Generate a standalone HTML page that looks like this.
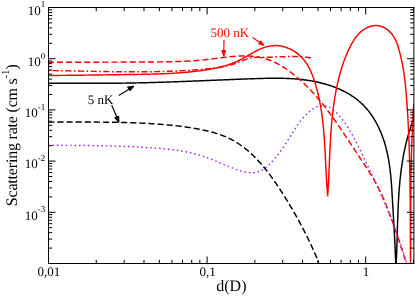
<!DOCTYPE html>
<html><head><meta charset="utf-8"><title>Scattering rate</title>
<style>
html,body{margin:0;padding:0;background:#fff;}
body{width:415px;height:296px;overflow:hidden;font-family:"Liberation Serif",serif;}
svg{display:block;will-change:transform;}
text{font-family:"Liberation Serif",serif;fill:#000;text-rendering:geometricPrecision;}
.t13{font-size:13px;}
.t16{font-size:16px;}
.sup{font-size:9px;}
.sup16{font-size:11px;}
path{fill:none;stroke-linejoin:round;}
.ax{stroke:#000;stroke-width:1;}
.r{stroke:#f00;stroke-width:1.45;}
.rd{stroke:#f00;stroke-width:1.45;stroke-dasharray:6.1 3;stroke-dashoffset:-0.5;}
.rdd{stroke:#f00;stroke-width:1.45;stroke-dasharray:6 2.5 1.7 2.5;stroke-dashoffset:-7.2;}
.k{stroke:#000;stroke-width:1.45;}
.kd{stroke:#000;stroke-width:1.45;stroke-dasharray:6.2 2.9;stroke-dashoffset:-1;}
.v{stroke:#a020f0;stroke-width:1.45;stroke-dasharray:1.5 2.95;stroke-dashoffset:-1.2;}
.ar path{stroke-width:1.15;}
.r1 path{stroke:#f00;} .r1 .hd{fill:#f00;}
.k1 path{stroke:#000;} .k1 .hd{fill:#000;}
</style></head>
<body>
<svg width="415" height="296" viewBox="0 0 415 296">
<rect width="415" height="296" fill="#fff"/>
<clipPath id="cp"><rect x="48.5" y="7.5" width="365.4" height="256.0"/></clipPath>
<g clip-path="url(#cp)">
<path class="kd" d="M20.00,122.00 L20.92,122.01 L21.84,122.02 L22.76,122.03 L23.68,122.04 L24.60,122.04 L25.52,122.05 L26.44,122.06 L27.35,122.06 L28.27,122.07 L29.19,122.07 L30.11,122.08 L31.03,122.08 L31.95,122.09 L32.87,122.09 L33.79,122.10 L34.71,122.10 L35.63,122.10 L36.55,122.10 L37.47,122.10 L38.39,122.11 L39.31,122.11 L40.23,122.11 L41.15,122.11 L42.07,122.11 L42.99,122.11 L43.91,122.11 L44.83,122.11 L45.75,122.11 L46.67,122.11 L47.60,122.11 L48.52,122.11 L49.44,122.11 L50.36,122.10 L51.28,122.10 L52.20,122.10 L53.12,122.10 L54.04,122.10 L54.96,122.09 L55.88,122.09 L56.80,122.09 L57.72,122.09 L58.64,122.09 L59.56,122.08 L60.48,122.08 L61.40,122.08 L62.33,122.08 L63.25,122.07 L64.17,122.07 L65.09,122.07 L66.01,122.07 L66.93,122.06 L67.85,122.06 L68.77,122.06 L69.69,122.06 L70.61,122.05 L71.53,122.05 L72.46,122.05 L73.38,122.05 L74.30,122.05 L75.22,122.05 L76.14,122.04 L77.06,122.04 L77.98,122.04 L78.90,122.04 L79.82,122.04 L80.74,122.04 L81.66,122.04 L82.59,122.04 L83.51,122.04 L84.43,122.04 L85.35,122.04 L86.27,122.05 L87.19,122.05 L88.11,122.05 L89.03,122.05 L89.95,122.06 L90.87,122.06 L91.79,122.06 L92.71,122.07 L93.64,122.07 L94.56,122.07 L95.48,122.08 L96.40,122.09 L97.32,122.09 L98.24,122.10 L99.16,122.11 L100.08,122.11 L101.00,122.12 L101.92,122.13 L102.84,122.14 L103.76,122.15 L104.68,122.16 L105.60,122.17 L106.52,122.18 L107.44,122.19 L108.36,122.20 L109.28,122.22 L110.21,122.23 L111.13,122.25 L112.05,122.26 L112.97,122.28 L113.89,122.29 L114.81,122.31 L115.73,122.33 L116.65,122.35 L117.57,122.36 L118.49,122.38 L119.41,122.40 L120.33,122.43 L121.25,122.45 L122.17,122.47 L123.08,122.49 L124.00,122.52 L124.92,122.54 L125.84,122.57 L126.76,122.60 L127.68,122.62 L128.60,122.65 L129.52,122.68 L130.44,122.71 L131.36,122.74 L132.28,122.78 L133.20,122.81 L134.12,122.84 L135.04,122.88 L135.95,122.91 L136.87,122.95 L137.79,122.99 L138.71,123.03 L139.63,123.07 L140.55,123.11 L141.47,123.15 L142.39,123.19 L143.30,123.24 L144.22,123.28 L145.14,123.33 L146.06,123.38 L146.98,123.42 L147.89,123.47 L148.81,123.52 L149.73,123.58 L150.65,123.63 L151.57,123.68 L152.48,123.74 L153.40,123.80 L154.32,123.86 L155.24,123.92 L156.15,123.98 L157.07,124.04 L157.99,124.11 L158.90,124.17 L159.82,124.24 L160.74,124.31 L161.65,124.38 L162.57,124.46 L163.49,124.53 L164.40,124.61 L165.32,124.69 L166.23,124.77 L167.15,124.85 L168.07,124.93 L168.98,125.02 L169.90,125.11 L170.81,125.20 L171.73,125.29 L172.64,125.39 L173.56,125.48 L174.47,125.58 L175.39,125.68 L176.30,125.79 L177.22,125.89 L178.13,126.00 L179.04,126.11 L179.96,126.22 L180.87,126.34 L181.78,126.46 L182.70,126.58 L183.61,126.70 L184.52,126.83 L185.44,126.96 L186.35,127.09 L187.26,127.22 L188.17,127.36 L189.09,127.50 L190.00,127.64 L190.91,127.78 L191.82,127.93 L192.73,128.08 L193.64,128.24 L194.55,128.39 L195.46,128.55 L196.38,128.72 L197.29,128.88 L198.20,129.05 L199.11,129.22 L200.01,129.40 L200.92,129.58 L201.83,129.76 L202.74,129.95 L203.64,130.14 L204.55,130.34 L205.45,130.54 L206.35,130.74 L207.25,130.95 L208.15,131.17 L209.05,131.39 L209.94,131.61 L210.84,131.84 L211.73,132.08 L212.62,132.32 L213.50,132.57 L214.38,132.82 L215.26,133.09 L216.14,133.35 L217.02,133.62 L217.89,133.90 L218.76,134.19 L219.62,134.49 L220.48,134.79 L221.34,135.09 L222.19,135.41 L223.04,135.73 L223.89,136.07 L224.73,136.40 L225.56,136.75 L226.40,137.11 L227.22,137.47 L228.05,137.85 L228.86,138.23 L229.68,138.62 L230.48,139.02 L231.29,139.43 L232.08,139.85 L232.88,140.27 L233.66,140.71 L234.44,141.15 L235.22,141.61 L235.99,142.07 L236.76,142.54 L237.52,143.02 L238.28,143.51 L239.03,144.00 L239.78,144.51 L240.52,145.02 L241.26,145.54 L241.99,146.06 L242.72,146.60 L243.44,147.14 L244.16,147.69 L244.87,148.24 L245.58,148.81 L246.29,149.38 L246.99,149.96 L247.68,150.54 L248.38,151.13 L249.06,151.73 L249.75,152.33 L250.43,152.94 L251.10,153.56 L251.77,154.18 L252.44,154.81 L253.10,155.44 L253.76,156.08 L254.41,156.73 L255.06,157.38 L255.71,158.04 L256.35,158.70 L256.99,159.37 L257.62,160.04 L258.25,160.72 L258.88,161.40 L259.50,162.09 L260.12,162.78 L260.74,163.48 L261.35,164.18 L261.96,164.88 L262.57,165.59 L263.17,166.30 L263.77,167.02 L264.36,167.74 L264.95,168.47 L265.54,169.20 L266.12,169.93 L266.71,170.67 L267.28,171.40 L267.86,172.15 L268.43,172.89 L269.00,173.64 L269.56,174.39 L270.13,175.15 L270.69,175.90 L271.24,176.66 L271.80,177.42 L272.35,178.19 L272.90,178.95 L273.44,179.72 L273.98,180.49 L274.52,181.26 L275.06,182.04 L275.59,182.81 L276.13,183.59 L276.65,184.37 L277.18,185.15 L277.70,185.93 L278.23,186.71 L278.75,187.50 L279.26,188.28 L279.78,189.06 L280.29,189.85 L280.80,190.64 L281.31,191.42 L281.81,192.21 L282.31,193.00 L282.81,193.78 L283.31,194.57 L283.81,195.36 L284.31,196.14 L284.80,196.93 L285.29,197.71 L285.78,198.50 L286.27,199.29 L286.75,200.07 L287.23,200.86 L287.71,201.64 L288.19,202.43 L288.67,203.21 L289.15,204.00 L289.62,204.78 L290.09,205.57 L290.56,206.35 L291.03,207.14 L291.49,207.93 L291.96,208.71 L292.42,209.50 L292.88,210.29 L293.34,211.07 L293.80,211.86 L294.25,212.65 L294.70,213.44 L295.15,214.23 L295.60,215.02 L296.05,215.80 L296.50,216.60 L296.94,217.39 L297.38,218.18 L297.82,218.97 L298.26,219.76 L298.70,220.56 L299.13,221.35 L299.57,222.15 L300.00,222.94 L300.43,223.74 L300.85,224.54 L301.28,225.34 L301.71,226.14 L302.13,226.94 L302.55,227.74 L302.97,228.54 L303.39,229.35 L303.80,230.15 L304.22,230.96 L304.63,231.77 L305.04,232.58 L305.45,233.39 L305.86,234.20 L306.26,235.01 L306.67,235.82 L307.07,236.64 L307.47,237.46 L307.87,238.27 L308.27,239.09 L308.67,239.92 L309.06,240.74 L309.46,241.56 L309.85,242.39 L310.24,243.22 L310.63,244.05 L311.01,244.88 L311.40,245.71 L311.78,246.55 L312.17,247.38 L312.55,248.22 L312.93,249.06 L313.30,249.91 L313.68,250.75 L314.06,251.60 L314.43,252.45 L314.80,253.30 L315.17,254.15 L315.54,255.00 L315.91,255.86 L316.28,256.72 L316.64,257.58 L317.00,258.45 L317.37,259.31 L317.73,260.18 L318.09,261.05 L318.44,261.92 L318.80,262.80"/>
<path class="k" d="M20.00,83.30 L21.03,83.30 L22.06,83.29 L23.09,83.29 L24.12,83.28 L25.15,83.28 L26.17,83.28 L27.20,83.27 L28.23,83.27 L29.26,83.27 L30.29,83.27 L31.32,83.26 L32.35,83.26 L33.38,83.26 L34.41,83.26 L35.45,83.26 L36.48,83.26 L37.51,83.26 L38.54,83.26 L39.57,83.26 L40.60,83.26 L41.63,83.26 L42.66,83.26 L43.70,83.26 L44.73,83.26 L45.76,83.26 L46.79,83.27 L47.82,83.27 L48.85,83.27 L49.89,83.27 L50.92,83.27 L51.95,83.28 L52.98,83.28 L54.02,83.28 L55.05,83.28 L56.08,83.29 L57.11,83.29 L58.15,83.29 L59.18,83.29 L60.21,83.30 L61.25,83.30 L62.28,83.30 L63.31,83.30 L64.35,83.31 L65.38,83.31 L66.41,83.31 L67.45,83.31 L68.48,83.32 L69.51,83.32 L70.55,83.32 L71.58,83.32 L72.61,83.33 L73.65,83.33 L74.68,83.33 L75.71,83.33 L76.75,83.33 L77.78,83.34 L78.81,83.34 L79.85,83.34 L80.88,83.34 L81.91,83.34 L82.95,83.34 L83.98,83.34 L85.02,83.34 L86.05,83.34 L87.08,83.34 L88.12,83.34 L89.15,83.34 L90.18,83.34 L91.22,83.34 L92.25,83.34 L93.28,83.34 L94.32,83.34 L95.35,83.34 L96.38,83.33 L97.42,83.33 L98.45,83.33 L99.48,83.32 L100.52,83.32 L101.55,83.32 L102.58,83.31 L103.62,83.31 L104.65,83.30 L105.68,83.30 L106.72,83.29 L107.75,83.28 L108.78,83.28 L109.81,83.27 L110.85,83.26 L111.88,83.25 L112.91,83.25 L113.94,83.24 L114.98,83.23 L116.01,83.22 L117.04,83.21 L118.07,83.20 L119.10,83.18 L120.14,83.17 L121.17,83.16 L122.20,83.15 L123.23,83.13 L124.26,83.12 L125.29,83.10 L126.33,83.09 L127.36,83.07 L128.39,83.06 L129.42,83.04 L130.45,83.02 L131.48,83.00 L132.51,82.98 L133.54,82.96 L134.57,82.94 L135.60,82.92 L136.63,82.90 L137.66,82.88 L138.69,82.86 L139.72,82.83 L140.75,82.81 L141.78,82.79 L142.81,82.76 L143.84,82.74 L144.87,82.71 L145.90,82.69 L146.93,82.66 L147.96,82.63 L148.98,82.61 L150.01,82.58 L151.04,82.55 L152.07,82.52 L153.10,82.49 L154.13,82.46 L155.16,82.43 L156.19,82.40 L157.22,82.37 L158.25,82.34 L159.27,82.31 L160.30,82.28 L161.33,82.24 L162.36,82.21 L163.39,82.18 L164.42,82.14 L165.45,82.11 L166.48,82.08 L167.50,82.04 L168.53,82.01 L169.56,81.97 L170.59,81.94 L171.62,81.90 L172.65,81.86 L173.68,81.83 L174.71,81.79 L175.74,81.75 L176.76,81.72 L177.79,81.68 L178.82,81.64 L179.85,81.60 L180.88,81.56 L181.91,81.53 L182.94,81.49 L183.97,81.45 L185.00,81.41 L186.03,81.37 L187.06,81.33 L188.09,81.29 L189.12,81.25 L190.15,81.21 L191.18,81.17 L192.21,81.13 L193.24,81.09 L194.27,81.05 L195.30,81.01 L196.33,80.96 L197.36,80.92 L198.39,80.88 L199.42,80.84 L200.45,80.80 L201.49,80.76 L202.52,80.72 L203.55,80.67 L204.58,80.63 L205.61,80.59 L206.64,80.55 L207.68,80.51 L208.71,80.46 L209.74,80.42 L210.77,80.38 L211.81,80.34 L212.84,80.29 L213.87,80.25 L214.91,80.21 L215.94,80.17 L216.97,80.12 L218.01,80.08 L219.04,80.04 L220.07,80.00 L221.11,79.96 L222.14,79.91 L223.18,79.87 L224.21,79.83 L225.25,79.79 L226.28,79.74 L227.32,79.70 L228.36,79.66 L229.39,79.62 L230.43,79.58 L231.47,79.54 L232.50,79.49 L233.54,79.45 L234.58,79.41 L235.61,79.37 L236.65,79.33 L237.69,79.29 L238.73,79.25 L239.77,79.21 L240.81,79.17 L241.85,79.13 L242.89,79.09 L243.92,79.05 L244.97,79.01 L246.01,78.97 L247.05,78.93 L248.09,78.89 L249.13,78.85 L250.17,78.82 L251.21,78.78 L252.25,78.74 L253.30,78.70 L254.34,78.67 L255.38,78.63 L256.42,78.60 L257.47,78.56 L258.51,78.53 L259.55,78.50 L260.60,78.47 L261.64,78.44 L262.68,78.41 L263.73,78.38 L264.77,78.36 L265.81,78.33 L266.86,78.31 L267.90,78.30 L268.94,78.28 L269.98,78.26 L271.02,78.25 L272.07,78.24 L273.11,78.24 L274.15,78.23 L275.19,78.23 L276.23,78.23 L277.27,78.24 L278.31,78.25 L279.35,78.26 L280.39,78.27 L281.42,78.29 L282.46,78.31 L283.50,78.34 L284.53,78.37 L285.57,78.40 L286.60,78.44 L287.64,78.48 L288.67,78.53 L289.70,78.58 L290.73,78.63 L291.76,78.69 L292.79,78.76 L293.82,78.82 L294.85,78.90 L295.87,78.98 L296.90,79.06 L297.92,79.15 L298.95,79.25 L299.97,79.35 L300.99,79.45 L302.01,79.57 L303.03,79.69 L304.05,79.81 L305.06,79.94 L306.08,80.08 L307.09,80.22 L308.10,80.37 L309.11,80.52 L310.12,80.69 L311.13,80.86 L312.14,81.03 L313.14,81.22 L314.15,81.41 L315.15,81.60 L316.15,81.81 L317.15,82.02 L318.15,82.24 L319.14,82.47 L320.13,82.70 L321.13,82.95 L322.12,83.20 L323.10,83.46 L324.09,83.73 L325.08,84.00 L326.06,84.29 L327.04,84.58 L328.02,84.88 L329.00,85.19 L329.97,85.51 L330.94,85.84 L331.91,86.18 L332.88,86.53 L333.85,86.88 L334.81,87.25 L335.77,87.63 L336.73,88.01 L337.68,88.41 L338.63,88.81 L339.57,89.22 L340.51,89.65 L341.45,90.08 L342.38,90.52 L343.30,90.98 L344.22,91.44 L345.13,91.92 L346.04,92.40 L346.94,92.89 L347.84,93.40 L348.72,93.92 L349.61,94.44 L350.48,94.98 L351.34,95.53 L352.20,96.08 L353.05,96.65 L353.89,97.23 L354.72,97.82 L355.54,98.43 L356.36,99.04 L357.16,99.67 L357.96,100.30 L358.74,100.95 L359.51,101.61 L360.28,102.28 L361.03,102.96 L361.77,103.65 L362.50,104.36 L363.22,105.07 L363.93,105.80 L364.63,106.54 L365.32,107.28 L366.00,108.04 L366.66,108.81 L367.32,109.59 L367.97,110.37 L368.60,111.17 L369.23,111.97 L369.85,112.79 L370.45,113.61 L371.05,114.44 L371.63,115.28 L372.21,116.13 L372.78,116.99 L373.33,117.85 L373.88,118.72 L374.41,119.60 L374.94,120.48 L375.46,121.37 L375.96,122.27 L376.46,123.18 L376.95,124.09 L377.42,125.01 L377.89,125.93 L378.35,126.86 L378.80,127.80 L379.24,128.74 L379.67,129.68 L380.09,130.63 L380.51,131.59 L380.91,132.54 L381.30,133.51 L381.69,134.47 L382.06,135.45 L382.43,136.42 L382.79,137.40 L383.14,138.38 L383.48,139.36 L383.81,140.35 L384.13,141.34 L384.44,142.33 L384.75,143.33 L385.04,144.32 L385.33,145.32 L385.61,146.32 L385.88,147.32 L386.14,148.33 L386.40,149.33 L386.64,150.34 L386.88,151.35 L387.11,152.36 L387.34,153.37 L387.56,154.38 L387.77,155.39 L387.97,156.41 L388.17,157.43 L388.36,158.44 L388.54,159.46 L388.72,160.48 L388.89,161.50 L389.05,162.53 L389.21,163.55 L389.37,164.57 L389.52,165.60 L389.66,166.62 L389.80,167.65 L389.93,168.68 L390.06,169.71 L390.19,170.74 L390.31,171.77 L390.42,172.80 L390.53,173.83 L390.64,174.86 L390.74,175.89 L390.84,176.92 L390.94,177.96 L391.03,178.99 L391.12,180.02 L391.21,181.06 L391.29,182.09 L391.37,183.12 L391.45,184.16 L391.53,185.19 L391.60,186.23 L391.67,187.26 L391.74,188.30 L391.81,189.33 L391.88,190.37 L391.94,191.40 L392.01,192.43 L392.07,193.47 L392.13,194.50 L392.19,195.53 L392.25,196.57 L392.31,197.60 L392.37,198.63 L392.43,199.66 L392.49,200.69 L392.55,201.72 L392.61,202.75 L392.67,203.78 L392.73,204.81 L392.79,205.84 L392.85,206.87 L392.91,207.90 L392.97,208.92 L393.03,209.95 L393.09,210.98 L393.15,212.00 L393.21,213.03 L393.27,214.06 L393.33,215.08 L393.39,216.11 L393.45,217.13 L393.51,218.16 L393.57,219.18 L393.63,220.20 L393.69,221.23 L393.74,222.25 L393.80,223.28 L393.86,224.30 L393.92,225.33 L393.98,226.35 L394.03,227.37 L394.09,228.40 L394.15,229.42 L394.20,230.45 L394.26,231.47 L394.31,232.49 L394.37,233.52 L394.42,234.54 L394.48,235.57 L394.53,236.59 L394.59,237.62 L394.64,238.65 L394.69,239.67 L394.74,240.70 L394.80,241.72 L394.85,242.75 L394.90,243.78 L394.95,244.81 L395.00,245.83 L395.05,246.86 L395.10,247.89 L395.14,248.92 L395.19,249.95 L395.24,250.98 L395.29,252.01 L395.33,253.05 L395.38,254.08 L395.42,255.11 L395.46,256.14 L395.51,257.18 L395.55,258.21 L395.59,259.25 L395.63,260.29 L395.67,261.32 L395.71,262.36 L395.75,263.40"/>
<path class="k" d="M414.10,118.00 L413.82,118.69 L413.55,119.39 L413.28,120.08 L413.01,120.78 L412.75,121.48 L412.49,122.17 L412.23,122.87 L411.98,123.57 L411.73,124.27 L411.48,124.97 L411.24,125.67 L410.99,126.37 L410.76,127.07 L410.52,127.78 L410.29,128.48 L410.06,129.18 L409.83,129.89 L409.61,130.59 L409.39,131.30 L409.17,132.01 L408.95,132.71 L408.74,133.42 L408.53,134.13 L408.32,134.84 L408.12,135.55 L407.92,136.26 L407.72,136.97 L407.52,137.68 L407.33,138.39 L407.14,139.11 L406.95,139.82 L406.77,140.53 L406.58,141.25 L406.40,141.96 L406.23,142.68 L406.05,143.39 L405.88,144.11 L405.71,144.83 L405.54,145.55 L405.38,146.26 L405.21,146.98 L405.05,147.70 L404.89,148.42 L404.74,149.14 L404.59,149.86 L404.43,150.58 L404.29,151.30 L404.14,152.03 L404.00,152.75 L403.85,153.47 L403.71,154.20 L403.58,154.92 L403.44,155.64 L403.31,156.37 L403.18,157.09 L403.05,157.82 L402.92,158.55 L402.80,159.27 L402.68,160.00 L402.55,160.73 L402.44,161.45 L402.32,162.18 L402.21,162.91 L402.09,163.64 L401.98,164.37 L401.87,165.10 L401.77,165.83 L401.66,166.56 L401.56,167.29 L401.46,168.02 L401.36,168.75 L401.26,169.49 L401.16,170.22 L401.07,170.95 L400.98,171.68 L400.89,172.42 L400.80,173.15 L400.71,173.88 L400.62,174.62 L400.54,175.35 L400.46,176.09 L400.38,176.82 L400.30,177.56 L400.22,178.29 L400.14,179.03 L400.07,179.77 L400.00,180.50 L399.92,181.24 L399.85,181.98 L399.78,182.71 L399.72,183.45 L399.65,184.19 L399.59,184.93 L399.52,185.67 L399.46,186.40 L399.40,187.14 L399.34,187.88 L399.28,188.62 L399.22,189.36 L399.17,190.10 L399.11,190.84 L399.06,191.58 L399.01,192.32 L398.96,193.06 L398.91,193.80 L398.86,194.54 L398.81,195.28 L398.76,196.02 L398.71,196.76 L398.67,197.50 L398.63,198.25 L398.58,198.99 L398.54,199.73 L398.50,200.47 L398.46,201.21 L398.42,201.95 L398.38,202.70 L398.34,203.44 L398.31,204.18 L398.27,204.92 L398.23,205.67 L398.20,206.41 L398.17,207.15 L398.13,207.89 L398.10,208.64 L398.07,209.38 L398.04,210.12 L398.01,210.87 L397.98,211.61 L397.95,212.35 L397.92,213.09 L397.89,213.84 L397.86,214.58 L397.83,215.32 L397.81,216.07 L397.78,216.81 L397.76,217.55 L397.73,218.30 L397.71,219.04 L397.68,219.78 L397.66,220.53 L397.63,221.27 L397.61,222.01 L397.59,222.75 L397.56,223.50 L397.54,224.24 L397.52,224.98 L397.49,225.73 L397.47,226.47 L397.45,227.21 L397.43,227.95 L397.41,228.70 L397.38,229.44 L397.36,230.18 L397.34,230.92 L397.32,231.66 L397.30,232.41 L397.28,233.15 L397.26,233.89 L397.23,234.63 L397.21,235.37 L397.19,236.11 L397.17,236.86 L397.15,237.60 L397.13,238.34 L397.10,239.08 L397.08,239.82 L397.06,240.56 L397.04,241.30 L397.01,242.04 L396.99,242.78 L396.97,243.52 L396.94,244.26 L396.92,245.00 L396.89,245.74 L396.87,246.48 L396.84,247.21 L396.82,247.95 L396.79,248.69 L396.77,249.43 L396.74,250.17 L396.71,250.90 L396.68,251.64 L396.66,252.38 L396.63,253.12 L396.60,253.85 L396.57,254.59 L396.54,255.32 L396.50,256.06 L396.47,256.80 L396.44,257.53 L396.41,258.27 L396.37,259.00 L396.34,259.73 L396.30,260.47 L396.26,261.20 L396.23,261.93 L396.19,262.67 L396.15,263.40"/>
<path class="rd" d="M20.00,62.20 L21.28,62.20 L22.56,62.21 L23.84,62.21 L25.12,62.21 L26.40,62.21 L27.68,62.22 L28.96,62.22 L30.24,62.22 L31.52,62.22 L32.80,62.22 L34.08,62.23 L35.36,62.23 L36.64,62.23 L37.92,62.23 L39.20,62.23 L40.48,62.23 L41.76,62.23 L43.04,62.23 L44.32,62.23 L45.60,62.23 L46.88,62.23 L48.16,62.23 L49.44,62.23 L50.72,62.23 L52.00,62.23 L53.28,62.23 L54.56,62.23 L55.84,62.23 L57.12,62.23 L58.40,62.23 L59.68,62.23 L60.96,62.23 L62.24,62.23 L63.52,62.22 L64.80,62.22 L66.08,62.22 L67.36,62.22 L68.63,62.22 L69.91,62.22 L71.19,62.21 L72.47,62.21 L73.75,62.21 L75.03,62.21 L76.31,62.21 L77.59,62.20 L78.87,62.20 L80.15,62.20 L81.43,62.20 L82.71,62.19 L83.99,62.19 L85.27,62.19 L86.55,62.19 L87.83,62.18 L89.11,62.18 L90.38,62.18 L91.66,62.17 L92.94,62.17 L94.22,62.17 L95.50,62.17 L96.78,62.16 L98.06,62.16 L99.34,62.16 L100.62,62.15 L101.90,62.15 L103.18,62.15 L104.46,62.14 L105.74,62.14 L107.02,62.14 L108.30,62.13 L109.58,62.13 L110.86,62.13 L112.14,62.12 L113.42,62.12 L114.70,62.12 L115.98,62.11 L117.26,62.11 L118.54,62.10 L119.82,62.10 L121.10,62.10 L122.38,62.09 L123.66,62.09 L124.94,62.09 L126.22,62.08 L127.50,62.08 L128.78,62.08 L130.07,62.07 L131.35,62.07 L132.63,62.07 L133.91,62.06 L135.19,62.06 L136.47,62.05 L137.75,62.05 L139.03,62.05 L140.31,62.04 L141.59,62.03 L142.87,62.03 L144.16,62.02 L145.44,62.01 L146.72,62.01 L148.00,62.00 L149.28,61.99 L150.56,61.98 L151.84,61.97 L153.12,61.96 L154.40,61.94 L155.68,61.93 L156.96,61.92 L158.24,61.90 L159.52,61.88 L160.80,61.86 L162.08,61.85 L163.36,61.82 L164.64,61.80 L165.92,61.78 L167.20,61.76 L168.48,61.73 L169.76,61.70 L171.04,61.67 L172.31,61.64 L173.59,61.61 L174.87,61.58 L176.15,61.54 L177.43,61.50 L178.70,61.46 L179.98,61.42 L181.26,61.38 L182.53,61.34 L183.81,61.29 L185.09,61.24 L186.36,61.18 L187.64,61.12 L188.91,61.06 L190.19,60.99 L191.47,60.92 L192.74,60.85 L194.02,60.76 L195.29,60.68 L196.56,60.58 L197.84,60.48 L199.11,60.37 L200.39,60.26 L201.66,60.13 L202.93,60.00 L204.21,59.87 L205.48,59.72 L206.75,59.58 L208.03,59.42 L209.30,59.27 L210.58,59.11 L211.85,58.95 L213.13,58.79 L214.41,58.62 L215.68,58.46 L216.96,58.29 L218.24,58.13 L219.52,57.96 L220.80,57.80 L222.08,57.64 L223.36,57.48 L224.65,57.33 L225.93,57.18 L227.22,57.04 L228.51,56.90 L229.80,56.77 L231.08,56.64 L232.37,56.52 L233.66,56.42 L234.94,56.32 L236.23,56.23 L237.52,56.15 L238.80,56.08 L240.08,56.03 L241.36,55.99 L242.64,55.96 L243.92,55.94 L245.19,55.95 L246.46,55.96 L247.73,56.00 L248.99,56.05 L250.26,56.12 L251.51,56.20 L252.77,56.31 L254.02,56.44 L255.26,56.59 L256.50,56.76 L257.74,56.95 L258.97,57.16 L260.19,57.40 L261.41,57.67 L262.63,57.96 L263.83,58.27 L265.04,58.61 L266.23,58.98 L267.42,59.37 L268.60,59.79 L269.78,60.23 L270.95,60.69 L272.11,61.18 L273.26,61.68 L274.41,62.21 L275.55,62.76 L276.69,63.33 L277.82,63.92 L278.94,64.53 L280.05,65.16 L281.16,65.80 L282.26,66.46 L283.35,67.14 L284.43,67.83 L285.51,68.54 L286.58,69.26 L287.64,69.99 L288.70,70.74 L289.74,71.50 L290.78,72.28 L291.82,73.06 L292.84,73.86 L293.86,74.66 L294.86,75.47 L295.86,76.30 L296.85,77.13 L297.84,77.96 L298.81,78.81 L299.78,79.66 L300.74,80.52 L301.69,81.38 L302.64,82.26 L303.57,83.13 L304.50,84.02 L305.42,84.91 L306.34,85.81 L307.25,86.71 L308.15,87.62 L309.04,88.54 L309.93,89.46 L310.81,90.39 L311.69,91.32 L312.55,92.26 L313.42,93.20 L314.27,94.15 L315.12,95.10 L315.97,96.06 L316.81,97.03 L317.64,98.00 L318.47,98.97 L319.29,99.95 L320.11,100.93 L320.92,101.92 L321.72,102.91 L322.53,103.90 L323.32,104.90 L324.12,105.90 L324.91,106.91 L325.69,107.92 L326.47,108.93 L327.24,109.95 L328.02,110.97 L328.78,112.00 L329.55,113.02 L330.31,114.05 L331.06,115.09 L331.82,116.12 L332.57,117.16 L333.31,118.20 L334.06,119.24 L334.80,120.29 L335.54,121.34 L336.27,122.39 L337.00,123.44 L337.73,124.49 L338.46,125.55 L339.19,126.61 L339.91,127.66 L340.63,128.72 L341.35,129.79 L342.07,130.85 L342.79,131.91 L343.50,132.98 L344.21,134.04 L344.93,135.11 L345.64,136.18 L346.35,137.24 L347.06,138.31 L347.76,139.38 L348.47,140.45 L349.18,141.52 L349.89,142.59 L350.59,143.66 L351.30,144.72 L352.00,145.79 L352.71,146.86 L353.42,147.93 L354.12,148.99 L354.83,150.06 L355.54,151.12 L356.25,152.19 L356.95,153.25 L357.66,154.31 L358.37,155.37 L359.08,156.43 L359.79,157.49 L360.50,158.55 L361.20,159.62 L361.91,160.68 L362.61,161.74 L363.31,162.80 L364.01,163.86 L364.71,164.93 L365.41,165.99 L366.10,167.06 L366.79,168.13 L367.47,169.20 L368.16,170.27 L368.83,171.34 L369.51,172.42 L370.18,173.50 L370.84,174.58 L371.50,175.66 L372.15,176.75 L372.80,177.84 L373.45,178.93 L374.08,180.03 L374.72,181.13 L375.34,182.24 L375.96,183.34 L376.57,184.46 L377.17,185.58 L377.77,186.70 L378.35,187.82 L378.93,188.96 L379.51,190.09 L380.07,191.24 L380.62,192.38 L381.17,193.53 L381.71,194.69 L382.24,195.85 L382.77,197.02 L383.28,198.19 L383.80,199.36 L384.30,200.54 L384.80,201.72 L385.29,202.90 L385.78,204.09 L386.26,205.28 L386.74,206.47 L387.21,207.66 L387.68,208.86 L388.15,210.06 L388.61,211.26 L389.06,212.46 L389.52,213.66 L389.97,214.87 L390.42,216.08 L390.86,217.28 L391.30,218.49 L391.74,219.70 L392.18,220.91 L392.62,222.12 L393.05,223.33 L393.48,224.55 L393.91,225.76 L394.34,226.97 L394.76,228.19 L395.18,229.40 L395.60,230.62 L396.02,231.84 L396.43,233.05 L396.85,234.27 L397.26,235.49 L397.67,236.71 L398.08,237.92 L398.48,239.14 L398.89,240.36 L399.29,241.58 L399.69,242.80 L400.09,244.02 L400.49,245.24 L400.89,246.46 L401.28,247.68 L401.68,248.90 L402.07,250.12 L402.47,251.33 L402.86,252.55 L403.25,253.77 L403.64,254.99 L404.02,256.21 L404.41,257.43 L404.80,258.64 L405.18,259.86 L405.57,261.08 L405.95,262.29 L406.33,263.51 L406.72,264.72 L407.10,265.94 L407.48,267.15 L407.86,268.37 L408.24,269.58 L408.62,270.79 L409.00,272.00"/>
<path class="v" d="M20.00,145.20 L21.33,145.21 L22.65,145.22 L23.98,145.22 L25.31,145.23 L26.63,145.24 L27.96,145.24 L29.29,145.25 L30.61,145.25 L31.94,145.26 L33.27,145.26 L34.59,145.27 L35.92,145.27 L37.25,145.28 L38.57,145.28 L39.90,145.28 L41.23,145.29 L42.56,145.29 L43.88,145.29 L45.21,145.30 L46.54,145.30 L47.86,145.30 L49.19,145.31 L50.52,145.31 L51.85,145.31 L53.17,145.32 L54.50,145.32 L55.83,145.32 L57.16,145.33 L58.48,145.33 L59.81,145.34 L61.14,145.34 L62.46,145.35 L63.79,145.35 L65.12,145.36 L66.45,145.36 L67.77,145.37 L69.10,145.38 L70.43,145.39 L71.75,145.39 L73.08,145.40 L74.41,145.41 L75.74,145.42 L77.06,145.43 L78.39,145.44 L79.72,145.45 L81.05,145.47 L82.37,145.48 L83.70,145.49 L85.03,145.51 L86.35,145.52 L87.68,145.54 L89.01,145.55 L90.33,145.57 L91.66,145.59 L92.99,145.61 L94.32,145.63 L95.64,145.65 L96.97,145.67 L98.30,145.70 L99.62,145.72 L100.95,145.75 L102.28,145.77 L103.60,145.80 L104.93,145.83 L106.26,145.86 L107.58,145.89 L108.91,145.93 L110.24,145.96 L111.56,145.99 L112.89,146.03 L114.21,146.07 L115.54,146.11 L116.87,146.15 L118.19,146.19 L119.52,146.23 L120.84,146.28 L122.17,146.33 L123.50,146.37 L124.82,146.42 L126.15,146.47 L127.47,146.53 L128.80,146.58 L130.13,146.64 L131.45,146.70 L132.78,146.75 L134.10,146.82 L135.43,146.88 L136.75,146.94 L138.08,147.01 L139.40,147.08 L140.73,147.15 L142.05,147.22 L143.38,147.30 L144.70,147.37 L146.03,147.45 L147.35,147.53 L148.68,147.61 L150.00,147.70 L151.32,147.79 L152.65,147.88 L153.97,147.97 L155.29,148.07 L156.62,148.17 L157.94,148.28 L159.26,148.39 L160.59,148.50 L161.91,148.62 L163.23,148.74 L164.55,148.87 L165.87,149.00 L167.19,149.14 L168.51,149.28 L169.83,149.43 L171.15,149.59 L172.47,149.75 L173.78,149.92 L175.10,150.09 L176.42,150.27 L177.73,150.46 L179.05,150.66 L180.36,150.86 L181.67,151.07 L182.99,151.29 L184.30,151.52 L185.61,151.76 L186.91,152.01 L188.22,152.27 L189.52,152.54 L190.81,152.82 L192.11,153.11 L193.40,153.42 L194.68,153.74 L195.96,154.08 L197.24,154.43 L198.51,154.80 L199.77,155.18 L201.03,155.58 L202.29,155.99 L203.54,156.41 L204.79,156.84 L206.04,157.29 L207.28,157.74 L208.52,158.21 L209.76,158.68 L211.00,159.16 L212.23,159.65 L213.47,160.15 L214.70,160.65 L215.94,161.16 L217.17,161.67 L218.41,162.19 L219.64,162.71 L220.88,163.23 L222.12,163.75 L223.36,164.28 L224.61,164.80 L225.86,165.33 L227.11,165.85 L228.36,166.38 L229.62,166.90 L230.89,167.41 L232.16,167.92 L233.43,168.43 L234.70,168.92 L235.98,169.39 L237.26,169.85 L238.54,170.29 L239.82,170.71 L241.09,171.09 L242.37,171.45 L243.64,171.77 L244.91,172.05 L246.17,172.29 L247.43,172.49 L248.68,172.64 L249.92,172.74 L251.16,172.79 L252.38,172.78 L253.60,172.71 L254.80,172.57 L256.00,172.37 L257.18,172.10 L258.34,171.75 L259.50,171.33 L260.64,170.83 L261.76,170.25 L262.87,169.61 L263.96,168.90 L265.03,168.13 L266.09,167.31 L267.14,166.44 L268.16,165.53 L269.17,164.58 L270.17,163.60 L271.14,162.59 L272.10,161.57 L273.04,160.53 L273.97,159.48 L274.87,158.43 L275.76,157.37 L276.63,156.32 L277.48,155.26 L278.32,154.20 L279.14,153.14 L279.95,152.07 L280.75,151.00 L281.53,149.93 L282.30,148.85 L283.05,147.76 L283.80,146.67 L284.54,145.57 L285.26,144.46 L285.98,143.35 L286.69,142.24 L287.40,141.12 L288.10,139.99 L288.80,138.87 L289.50,137.74 L290.19,136.61 L290.89,135.48 L291.59,134.35 L292.29,133.22 L292.99,132.10 L293.70,130.98 L294.42,129.86 L295.14,128.74 L295.87,127.63 L296.62,126.53 L297.37,125.43 L298.14,124.35 L298.92,123.27 L299.71,122.19 L300.53,121.13 L301.35,120.08 L302.20,119.04 L303.07,118.01 L303.96,117.00 L304.87,116.00 L305.80,115.01 L306.76,114.04 L307.74,113.09 L308.75,112.16 L309.79,111.26 L310.84,110.40 L311.92,109.58 L313.02,108.83 L314.14,108.14 L315.28,107.52 L316.44,106.98 L317.62,106.53 L318.81,106.19 L320.01,105.94 L321.22,105.79 L322.44,105.73 L323.66,105.78 L324.87,105.92 L326.07,106.15 L327.25,106.48 L328.42,106.89 L329.57,107.40 L330.69,108.00 L331.78,108.68 L332.84,109.44 L333.88,110.26 L334.90,111.14 L335.89,112.07 L336.86,113.04 L337.80,114.04 L338.73,115.07 L339.63,116.12 L340.51,117.17 L341.38,118.24 L342.22,119.31 L343.05,120.39 L343.85,121.48 L344.64,122.57 L345.42,123.68 L346.18,124.79 L346.92,125.90 L347.65,127.02 L348.37,128.15 L349.07,129.28 L349.76,130.42 L350.44,131.56 L351.10,132.71 L351.76,133.86 L352.41,135.02 L353.05,136.18 L353.68,137.34 L354.30,138.51 L354.92,139.68 L355.52,140.85 L356.13,142.03 L356.73,143.21 L357.32,144.39 L357.91,145.57 L358.50,146.76 L359.08,147.94 L359.66,149.13 L360.25,150.32 L360.83,151.50 L361.41,152.69 L361.99,153.88 L362.57,155.07 L363.15,156.26 L363.72,157.45 L364.30,158.65 L364.88,159.84 L365.45,161.03 L366.03,162.22 L366.60,163.42 L367.17,164.61 L367.75,165.81 L368.32,167.00 L368.89,168.20 L369.46,169.40 L370.02,170.60 L370.59,171.80 L371.15,173.00 L371.72,174.20 L372.28,175.40 L372.84,176.60 L373.40,177.80 L373.96,179.00 L374.52,180.21 L375.07,181.41 L375.63,182.62 L376.18,183.83 L376.73,185.03 L377.28,186.24 L377.83,187.45 L378.38,188.66 L378.92,189.87 L379.46,191.08 L380.00,192.29 L380.54,193.51 L381.08,194.72 L381.62,195.93 L382.15,197.15 L382.68,198.37 L383.21,199.58 L383.74,200.80 L384.26,202.02 L384.78,203.24 L385.30,204.46 L385.82,205.68 L386.34,206.91 L386.85,208.13 L387.36,209.35 L387.87,210.58 L388.38,211.81 L388.88,213.04 L389.38,214.26 L389.88,215.49 L390.38,216.72 L390.87,217.96 L391.37,219.19 L391.85,220.42 L392.34,221.66 L392.82,222.89 L393.30,224.13 L393.78,225.37 L394.26,226.61 L394.73,227.85 L395.20,229.09 L395.66,230.33 L396.12,231.57 L396.58,232.82 L397.04,234.06 L397.49,235.31 L397.94,236.56 L398.39,237.81 L398.83,239.06 L399.27,240.31 L399.71,241.56 L400.15,242.82 L400.58,244.07 L401.00,245.33 L401.43,246.59 L401.85,247.84 L402.26,249.10 L402.67,250.37 L403.08,251.63 L403.49,252.89 L403.89,254.16 L404.29,255.42 L404.68,256.69 L405.07,257.96 L405.46,259.23 L405.84,260.50 L406.22,261.77 L406.59,263.05 L406.96,264.32 L407.33,265.60 L407.69,266.88 L408.05,268.15 L408.40,269.43 L408.75,270.72 L409.10,272.00"/>
<path class="rdd" d="M20.00,70.40 L20.98,70.40 L21.96,70.39 L22.93,70.39 L23.91,70.39 L24.89,70.38 L25.87,70.38 L26.85,70.38 L27.82,70.38 L28.80,70.38 L29.78,70.39 L30.76,70.39 L31.74,70.39 L32.71,70.40 L33.69,70.40 L34.67,70.41 L35.65,70.41 L36.63,70.42 L37.61,70.42 L38.58,70.43 L39.56,70.44 L40.54,70.45 L41.52,70.46 L42.50,70.47 L43.48,70.48 L44.45,70.49 L45.43,70.50 L46.41,70.51 L47.39,70.52 L48.37,70.54 L49.35,70.55 L50.33,70.56 L51.30,70.58 L52.28,70.59 L53.26,70.60 L54.24,70.62 L55.22,70.63 L56.20,70.65 L57.18,70.67 L58.15,70.68 L59.13,70.70 L60.11,70.72 L61.09,70.73 L62.07,70.75 L63.05,70.77 L64.03,70.79 L65.01,70.80 L65.98,70.82 L66.96,70.84 L67.94,70.86 L68.92,70.88 L69.90,70.90 L70.88,70.92 L71.86,70.94 L72.84,70.95 L73.82,70.97 L74.79,70.99 L75.77,71.01 L76.75,71.03 L77.73,71.05 L78.71,71.07 L79.69,71.09 L80.67,71.11 L81.65,71.13 L82.63,71.15 L83.60,71.17 L84.58,71.19 L85.56,71.21 L86.54,71.23 L87.52,71.25 L88.50,71.27 L89.48,71.29 L90.46,71.31 L91.44,71.33 L92.41,71.35 L93.39,71.37 L94.37,71.38 L95.35,71.40 L96.33,71.42 L97.31,71.44 L98.29,71.46 L99.27,71.47 L100.25,71.49 L101.23,71.51 L102.20,71.52 L103.18,71.54 L104.16,71.56 L105.14,71.57 L106.12,71.59 L107.10,71.60 L108.08,71.62 L109.06,71.63 L110.04,71.65 L111.01,71.66 L111.99,71.67 L112.97,71.69 L113.95,71.70 L114.93,71.71 L115.91,71.72 L116.89,71.73 L117.87,71.74 L118.84,71.75 L119.82,71.76 L120.80,71.77 L121.78,71.78 L122.76,71.79 L123.74,71.80 L124.72,71.80 L125.70,71.81 L126.67,71.81 L127.65,71.82 L128.63,71.82 L129.61,71.83 L130.59,71.83 L131.57,71.83 L132.55,71.83 L133.52,71.83 L134.50,71.83 L135.48,71.83 L136.46,71.83 L137.44,71.83 L138.42,71.83 L139.39,71.82 L140.37,71.82 L141.35,71.81 L142.33,71.81 L143.31,71.80 L144.29,71.79 L145.26,71.78 L146.24,71.78 L147.22,71.76 L148.20,71.75 L149.18,71.74 L150.16,71.73 L151.13,71.71 L152.11,71.70 L153.09,71.68 L154.07,71.67 L155.05,71.65 L156.02,71.63 L157.00,71.61 L157.98,71.59 L158.96,71.57 L159.94,71.54 L160.91,71.52 L161.89,71.49 L162.87,71.47 L163.85,71.44 L164.82,71.41 L165.80,71.38 L166.78,71.35 L167.76,71.32 L168.73,71.29 L169.71,71.25 L170.69,71.22 L171.67,71.18 L172.64,71.14 L173.62,71.10 L174.60,71.06 L175.58,71.02 L176.55,70.98 L177.53,70.93 L178.51,70.89 L179.48,70.84 L180.46,70.79 L181.44,70.74 L182.42,70.69 L183.39,70.64 L184.37,70.58 L185.35,70.53 L186.32,70.47 L187.30,70.41 L188.28,70.35 L189.25,70.29 L190.23,70.23 L191.21,70.17 L192.18,70.10 L193.16,70.03 L194.14,69.97 L195.11,69.90 L196.09,69.82 L197.07,69.75 L198.04,69.68 L199.02,69.60 L199.99,69.52 L200.97,69.44 L201.95,69.36 L202.92,69.28 L203.90,69.19 L204.87,69.10 L205.85,69.01 L206.82,68.92 L207.80,68.82 L208.77,68.72 L209.74,68.61 L210.72,68.50 L211.69,68.39 L212.66,68.27 L213.63,68.15 L214.60,68.02 L215.56,67.89 L216.53,67.75 L217.50,67.60 L218.46,67.45 L219.43,67.29 L220.39,67.13 L221.35,66.96 L222.31,66.78 L223.27,66.59 L224.22,66.40 L225.18,66.20 L226.13,65.99 L227.08,65.77 L228.03,65.54 L228.98,65.31 L229.93,65.06 L230.87,64.81 L231.81,64.54 L232.75,64.27 L233.69,63.98 L234.63,63.69 L235.56,63.39 L236.49,63.07 L237.42,62.74 L238.35,62.40 L239.27,62.05 L240.19,61.69 L241.11,61.32 L242.03,60.94 L242.94,60.55 L243.86,60.17 L244.78,59.80 L245.70,59.44 L246.62,59.09 L247.55,58.77 L248.48,58.48 L249.42,58.21 L250.36,57.99 L251.32,57.80 L252.27,57.65 L253.24,57.52 L254.21,57.43 L255.18,57.36 L256.16,57.31 L257.15,57.28 L258.13,57.27 L259.12,57.26 L260.11,57.27 L261.10,57.28 L262.09,57.29 L263.08,57.30 L264.07,57.30 L265.06,57.30 L266.05,57.30 L267.03,57.29 L268.02,57.27 L269.01,57.25 L269.99,57.23 L270.98,57.20 L271.96,57.17 L272.94,57.14 L273.92,57.10 L274.91,57.07 L275.89,57.03 L276.87,56.99 L277.85,56.95 L278.82,56.91 L279.80,56.87 L280.78,56.83 L281.76,56.79 L282.73,56.75 L283.71,56.71 L284.69,56.68 L285.66,56.65 L286.64,56.62 L287.61,56.60 L288.59,56.58 L289.56,56.56 L290.54,56.54 L291.51,56.54 L292.49,56.53 L293.46,56.54 L294.43,56.55 L295.41,56.56 L296.38,56.58 L297.36,56.61 L298.33,56.65 L299.30,56.69 L300.28,56.75 L301.25,56.81 L302.22,56.88 L303.20,56.96 L304.17,57.05 L305.15,57.15 L306.12,57.27 L307.10,57.39 L308.07,57.52 L309.05,57.67 L310.02,57.83 L311.00,58.00"/>
<path class="r" d="M20.00,75.50 L20.87,75.50 L21.74,75.51 L22.61,75.51 L23.48,75.51 L24.35,75.51 L25.22,75.51 L26.09,75.52 L26.96,75.52 L27.82,75.52 L28.69,75.52 L29.56,75.52 L30.43,75.52 L31.30,75.52 L32.17,75.52 L33.04,75.52 L33.91,75.52 L34.77,75.52 L35.64,75.52 L36.51,75.51 L37.38,75.51 L38.25,75.51 L39.12,75.51 L39.98,75.51 L40.85,75.50 L41.72,75.50 L42.59,75.50 L43.46,75.50 L44.32,75.49 L45.19,75.49 L46.06,75.48 L46.93,75.48 L47.80,75.48 L48.66,75.47 L49.53,75.47 L50.40,75.46 L51.27,75.46 L52.13,75.45 L53.00,75.45 L53.87,75.44 L54.74,75.44 L55.60,75.43 L56.47,75.42 L57.34,75.42 L58.21,75.41 L59.07,75.40 L59.94,75.40 L60.81,75.39 L61.68,75.38 L62.54,75.38 L63.41,75.37 L64.28,75.36 L65.14,75.35 L66.01,75.35 L66.88,75.34 L67.75,75.33 L68.61,75.32 L69.48,75.31 L70.35,75.30 L71.21,75.30 L72.08,75.29 L72.95,75.28 L73.81,75.27 L74.68,75.26 L75.55,75.25 L76.42,75.24 L77.28,75.23 L78.15,75.22 L79.02,75.21 L79.88,75.20 L80.75,75.19 L81.62,75.18 L82.48,75.17 L83.35,75.16 L84.22,75.15 L85.08,75.14 L85.95,75.13 L86.82,75.12 L87.69,75.11 L88.55,75.10 L89.42,75.08 L90.29,75.07 L91.15,75.06 L92.02,75.05 L92.89,75.04 L93.76,75.03 L94.62,75.02 L95.49,75.00 L96.36,74.99 L97.22,74.98 L98.09,74.97 L98.96,74.96 L99.83,74.95 L100.69,74.93 L101.56,74.92 L102.43,74.91 L103.30,74.90 L104.16,74.89 L105.03,74.87 L105.90,74.86 L106.77,74.85 L107.63,74.84 L108.50,74.82 L109.37,74.81 L110.24,74.80 L111.10,74.79 L111.97,74.77 L112.84,74.76 L113.71,74.75 L114.58,74.74 L115.44,74.72 L116.31,74.71 L117.18,74.70 L118.05,74.69 L118.92,74.67 L119.79,74.66 L120.65,74.65 L121.52,74.64 L122.39,74.62 L123.26,74.61 L124.13,74.60 L125.00,74.59 L125.87,74.57 L126.73,74.56 L127.60,74.55 L128.47,74.54 L129.34,74.52 L130.21,74.51 L131.08,74.50 L131.95,74.49 L132.82,74.47 L133.69,74.46 L134.56,74.45 L135.43,74.43 L136.29,74.42 L137.16,74.41 L138.03,74.39 L138.90,74.38 L139.77,74.36 L140.64,74.35 L141.51,74.33 L142.38,74.32 L143.25,74.30 L144.12,74.28 L144.99,74.27 L145.86,74.25 L146.73,74.23 L147.60,74.21 L148.47,74.19 L149.34,74.17 L150.20,74.15 L151.07,74.13 L151.94,74.11 L152.81,74.08 L153.68,74.06 L154.55,74.03 L155.42,74.01 L156.29,73.98 L157.15,73.95 L158.02,73.92 L158.89,73.89 L159.76,73.86 L160.63,73.83 L161.50,73.80 L162.36,73.76 L163.23,73.73 L164.10,73.69 L164.97,73.66 L165.83,73.62 L166.70,73.58 L167.57,73.53 L168.43,73.49 L169.30,73.45 L170.17,73.40 L171.03,73.36 L171.90,73.31 L172.77,73.26 L173.63,73.21 L174.50,73.15 L175.36,73.10 L176.23,73.04 L177.09,72.99 L177.96,72.93 L178.82,72.87 L179.69,72.80 L180.55,72.74 L181.41,72.67 L182.28,72.61 L183.14,72.54 L184.00,72.47 L184.87,72.39 L185.73,72.32 L186.59,72.24 L187.45,72.16 L188.32,72.08 L189.18,72.00 L190.04,71.91 L190.90,71.82 L191.76,71.73 L192.62,71.64 L193.48,71.55 L194.34,71.45 L195.20,71.36 L196.06,71.26 L196.92,71.15 L197.78,71.05 L198.63,70.94 L199.49,70.83 L200.35,70.72 L201.21,70.60 L202.06,70.49 L202.92,70.37 L203.77,70.24 L204.63,70.12 L205.48,69.99 L206.34,69.86 L207.19,69.72 L208.04,69.58 L208.89,69.44 L209.75,69.29 L210.59,69.14 L211.44,68.98 L212.29,68.82 L213.14,68.66 L213.98,68.49 L214.83,68.32 L215.67,68.14 L216.51,67.96 L217.35,67.77 L218.19,67.58 L219.03,67.38 L219.87,67.18 L220.70,66.97 L221.53,66.75 L222.37,66.53 L223.20,66.30 L224.02,66.07 L224.85,65.83 L225.67,65.58 L226.50,65.33 L227.32,65.07 L228.14,64.80 L228.95,64.53 L229.77,64.25 L230.58,63.96 L231.39,63.67 L232.20,63.36 L233.01,63.05 L233.81,62.73 L234.61,62.41 L235.41,62.07 L236.21,61.73 L237.00,61.38 L237.79,61.02 L238.58,60.65 L239.37,60.27 L240.15,59.89 L240.93,59.49 L241.71,59.09 L242.48,58.68 L243.26,58.26 L244.03,57.83 L244.80,57.40 L245.57,56.96 L246.34,56.52 L247.11,56.08 L247.87,55.63 L248.64,55.18 L249.41,54.74 L250.18,54.29 L250.96,53.84 L251.73,53.40 L252.51,52.96 L253.28,52.52 L254.07,52.09 L254.85,51.67 L255.63,51.25 L256.42,50.84 L257.21,50.44 L258.00,50.05 L258.80,49.67 L259.60,49.30 L260.40,48.95 L261.21,48.61 L262.02,48.28 L262.84,47.97 L263.66,47.67 L264.48,47.40 L265.31,47.14 L266.14,46.90 L266.97,46.68 L267.81,46.47 L268.65,46.29 L269.49,46.13 L270.33,45.99 L271.18,45.87 L272.03,45.76 L272.87,45.68 L273.72,45.63 L274.57,45.59 L275.41,45.58 L276.26,45.59 L277.11,45.62 L277.95,45.68 L278.79,45.75 L279.63,45.86 L280.47,45.98 L281.30,46.13 L282.13,46.30 L282.96,46.48 L283.78,46.69 L284.60,46.93 L285.41,47.18 L286.22,47.45 L287.02,47.74 L287.82,48.05 L288.61,48.38 L289.40,48.73 L290.17,49.09 L290.94,49.48 L291.71,49.88 L292.46,50.30 L293.21,50.73 L293.94,51.19 L294.67,51.65 L295.39,52.14 L296.10,52.64 L296.80,53.15 L297.49,53.68 L298.16,54.23 L298.83,54.79 L299.48,55.36 L300.13,55.94 L300.75,56.54 L301.37,57.16 L301.98,57.78 L302.57,58.42 L303.14,59.06 L303.70,59.72 L304.25,60.39 L304.79,61.07 L305.30,61.76 L305.81,62.47 L306.30,63.18 L306.78,63.90 L307.24,64.63 L307.69,65.36 L308.13,66.11 L308.56,66.86 L308.98,67.63 L309.38,68.39 L309.78,69.17 L310.16,69.95 L310.53,70.74 L310.89,71.53 L311.25,72.33 L311.59,73.14 L311.93,73.95 L312.25,74.76 L312.57,75.58 L312.88,76.40 L313.18,77.23 L313.48,78.06 L313.77,78.89 L314.05,79.73 L314.32,80.56 L314.59,81.40 L314.86,82.24 L315.12,83.08 L315.37,83.92 L315.62,84.76 L315.87,85.60 L316.11,86.45 L316.35,87.29 L316.58,88.13 L316.81,88.98 L317.03,89.82 L317.25,90.67 L317.46,91.51 L317.67,92.36 L317.88,93.21 L318.08,94.05 L318.28,94.90 L318.48,95.75 L318.67,96.60 L318.86,97.45 L319.04,98.30 L319.22,99.14 L319.39,99.99 L319.57,100.85 L319.73,101.70 L319.90,102.55 L320.06,103.40 L320.22,104.25 L320.37,105.10 L320.53,105.96 L320.67,106.81 L320.82,107.66 L320.96,108.52 L321.10,109.37 L321.23,110.23 L321.37,111.08 L321.50,111.94 L321.62,112.79 L321.75,113.65 L321.87,114.51 L321.98,115.36 L322.10,116.22 L322.21,117.08 L322.32,117.94 L322.43,118.79 L322.53,119.65 L322.64,120.51 L322.74,121.37 L322.83,122.23 L322.93,123.09 L323.02,123.95 L323.11,124.81 L323.20,125.67 L323.29,126.53 L323.37,127.39 L323.45,128.25 L323.53,129.12 L323.61,129.98 L323.69,130.84 L323.76,131.70 L323.83,132.56 L323.90,133.43 L323.97,134.29 L324.04,135.15 L324.11,136.02 L324.17,136.88 L324.24,137.74 L324.30,138.61 L324.36,139.47 L324.42,140.34 L324.47,141.20 L324.53,142.06 L324.58,142.93 L324.64,143.79 L324.69,144.66 L324.74,145.52 L324.79,146.39 L324.84,147.26 L324.89,148.12 L324.94,148.99 L324.99,149.85 L325.04,150.72 L325.08,151.59 L325.13,152.45 L325.17,153.32 L325.22,154.19 L325.26,155.05 L325.30,155.92 L325.35,156.79 L325.39,157.65 L325.43,158.52 L325.47,159.39 L325.52,160.25 L325.56,161.12 L325.60,161.99 L325.64,162.86 L325.68,163.72 L325.72,164.59 L325.77,165.46 L325.81,166.33 L325.85,167.19 L325.89,168.06 L325.94,168.93 L325.98,169.80 L326.02,170.66 L326.07,171.53 L326.11,172.40 L326.16,173.27 L326.20,174.13 L326.25,175.00 L326.30,175.87 L326.35,176.74 L326.39,177.60 L326.44,178.47 L326.50,179.34 L326.55,180.20 L326.60,181.07 L326.65,181.94 L326.71,182.81 L326.76,183.67 L326.82,184.54 L326.88,185.41 L326.94,186.27 L327.00,187.14 L327.06,188.01 L327.13,188.87 L327.19,189.74 L327.26,190.61 L327.33,191.47 L327.40,192.34 L327.47,193.20 L327.55,194.07 L327.62,194.93 L327.70,195.80 L327.75,195.08 L327.80,194.36 L327.84,193.64 L327.89,192.92 L327.93,192.20 L327.98,191.48 L328.02,190.75 L328.06,190.03 L328.10,189.31 L328.15,188.58 L328.19,187.86 L328.23,187.14 L328.27,186.41 L328.31,185.69 L328.34,184.96 L328.38,184.23 L328.42,183.51 L328.46,182.78 L328.49,182.06 L328.53,181.33 L328.57,180.60 L328.60,179.87 L328.64,179.14 L328.67,178.42 L328.70,177.69 L328.74,176.96 L328.77,176.23 L328.81,175.50 L328.84,174.77 L328.87,174.04 L328.90,173.31 L328.94,172.58 L328.97,171.85 L329.00,171.12 L329.03,170.38 L329.06,169.65 L329.10,168.92 L329.13,168.19 L329.16,167.46 L329.19,166.72 L329.22,165.99 L329.25,165.26 L329.28,164.53 L329.32,163.79 L329.35,163.06 L329.38,162.33 L329.41,161.59 L329.44,160.86 L329.47,160.13 L329.51,159.39 L329.54,158.66 L329.57,157.92 L329.60,157.19 L329.63,156.45 L329.67,155.72 L329.70,154.99 L329.73,154.25 L329.77,153.52 L329.80,152.78 L329.84,152.05 L329.87,151.31 L329.91,150.58 L329.94,149.84 L329.98,149.11 L330.02,148.37 L330.05,147.64 L330.09,146.91 L330.13,146.17 L330.17,145.44 L330.21,144.70 L330.25,143.97 L330.29,143.23 L330.33,142.50 L330.37,141.76 L330.41,141.03 L330.45,140.30 L330.50,139.56 L330.54,138.83 L330.58,138.09 L330.63,137.36 L330.68,136.63 L330.72,135.89 L330.77,135.16 L330.82,134.43 L330.87,133.69 L330.92,132.96 L330.97,132.23 L331.02,131.50 L331.08,130.76 L331.13,130.03 L331.18,129.30 L331.24,128.57 L331.30,127.84 L331.36,127.10 L331.41,126.37 L331.47,125.64 L331.54,124.91 L331.60,124.18 L331.66,123.45 L331.73,122.72 L331.79,121.99 L331.86,121.26 L331.93,120.53 L331.99,119.80 L332.06,119.08 L332.14,118.35 L332.21,117.62 L332.28,116.89 L332.36,116.17 L332.44,115.44 L332.51,114.71 L332.59,113.99 L332.67,113.26 L332.76,112.53 L332.84,111.81 L332.93,111.09 L333.01,110.36 L333.10,109.64 L333.19,108.91 L333.28,108.19 L333.37,107.47 L333.47,106.75 L333.56,106.02 L333.66,105.30 L333.76,104.58 L333.86,103.86 L333.96,103.14 L334.07,102.42 L334.17,101.70 L334.28,100.98 L334.39,100.27 L334.50,99.55 L334.61,98.83 L334.73,98.12 L334.84,97.40 L334.96,96.68 L335.08,95.97 L335.20,95.25 L335.33,94.54 L335.45,93.83 L335.58,93.12 L335.71,92.40 L335.84,91.69 L335.98,90.98 L336.11,90.27 L336.25,89.56 L336.39,88.85 L336.53,88.14 L336.68,87.44 L336.82,86.73 L336.97,86.02 L337.12,85.32 L337.27,84.61 L337.43,83.91 L337.58,83.20 L337.74,82.50 L337.91,81.80 L338.07,81.10 L338.24,80.39 L338.40,79.69 L338.57,78.99 L338.75,78.29 L338.92,77.60 L339.10,76.90 L339.28,76.20 L339.47,75.50 L339.66,74.81 L339.85,74.11 L340.04,73.41 L340.23,72.72 L340.43,72.02 L340.63,71.33 L340.84,70.64 L341.04,69.94 L341.25,69.25 L341.47,68.56 L341.69,67.86 L341.91,67.17 L342.13,66.48 L342.36,65.79 L342.59,65.10 L342.82,64.40 L343.06,63.71 L343.30,63.02 L343.54,62.33 L343.79,61.64 L344.04,60.95 L344.30,60.26 L344.56,59.57 L344.82,58.88 L345.09,58.19 L345.36,57.51 L345.63,56.82 L345.91,56.13 L346.20,55.44 L346.48,54.75 L346.77,54.06 L347.07,53.37 L347.37,52.68 L347.67,51.99 L347.98,51.30 L348.29,50.61 L348.61,49.92 L348.93,49.23 L349.26,48.55 L349.59,47.86 L349.93,47.17 L350.27,46.49 L350.62,45.80 L350.97,45.12 L351.33,44.45 L351.70,43.78 L352.07,43.11 L352.45,42.45 L352.84,41.79 L353.23,41.14 L353.63,40.49 L354.04,39.85 L354.46,39.22 L354.88,38.60 L355.32,37.98 L355.76,37.37 L356.21,36.78 L356.67,36.19 L357.14,35.61 L357.61,35.04 L358.10,34.49 L358.60,33.94 L359.11,33.41 L359.63,32.89 L360.16,32.39 L360.70,31.90 L361.25,31.42 L361.81,30.95 L362.39,30.50 L362.97,30.07 L363.57,29.65 L364.18,29.25 L364.80,28.87 L365.43,28.51 L366.07,28.16 L366.72,27.83 L367.38,27.52 L368.04,27.23 L368.71,26.97 L369.39,26.72 L370.07,26.49 L370.75,26.29 L371.43,26.11 L372.12,25.95 L372.81,25.82 L373.50,25.71 L374.19,25.63 L374.88,25.57 L375.57,25.54 L376.25,25.54 L376.93,25.56 L377.61,25.61 L378.28,25.69 L378.94,25.79 L379.60,25.92 L380.25,26.08 L380.90,26.26 L381.54,26.47 L382.18,26.70 L382.81,26.96 L383.43,27.23 L384.04,27.53 L384.64,27.85 L385.24,28.20 L385.82,28.56 L386.40,28.94 L386.97,29.35 L387.53,29.77 L388.08,30.21 L388.61,30.67 L389.14,31.14 L389.66,31.63 L390.16,32.14 L390.65,32.67 L391.13,33.20 L391.60,33.76 L392.06,34.32 L392.50,34.91 L392.93,35.50 L393.34,36.10 L393.74,36.72 L394.13,37.35 L394.50,37.99 L394.85,38.64 L395.20,39.30 L395.52,39.96 L395.84,40.64 L396.14,41.32 L396.43,42.01 L396.71,42.71 L396.98,43.41 L397.24,44.12 L397.49,44.83 L397.73,45.54 L397.96,46.26 L398.19,46.98 L398.41,47.71 L398.63,48.43 L398.84,49.16 L399.04,49.89 L399.24,50.61 L399.44,51.34 L399.63,52.06 L399.83,52.79 L400.01,53.52 L400.20,54.24 L400.38,54.97 L400.55,55.69 L400.73,56.42 L400.90,57.14 L401.06,57.87 L401.23,58.60 L401.39,59.32 L401.54,60.05 L401.70,60.77 L401.85,61.49 L402.00,62.22 L402.14,62.94 L402.28,63.67 L402.42,64.39 L402.56,65.12 L402.69,65.84 L402.82,66.56 L402.95,67.29 L403.08,68.01 L403.20,68.74 L403.32,69.46 L403.44,70.18 L403.55,70.91 L403.66,71.63 L403.78,72.35 L403.88,73.08 L403.99,73.80 L404.09,74.53 L404.20,75.25 L404.29,75.97 L404.39,76.70 L404.49,77.42 L404.58,78.14 L404.67,78.87 L404.76,79.59 L404.85,80.31 L404.93,81.04 L405.02,81.76 L405.10,82.48 L405.18,83.21 L405.26,83.93 L405.34,84.65 L405.41,85.38 L405.49,86.10 L405.56,86.82 L405.63,87.55 L405.70,88.27 L405.77,88.99 L405.84,89.72 L405.91,90.44 L405.97,91.17 L406.04,91.89 L406.10,92.61 L406.16,93.34 L406.22,94.06 L406.28,94.79 L406.34,95.51 L406.40,96.23 L406.46,96.96 L406.51,97.68 L406.57,98.41 L406.63,99.13 L406.68,99.86 L406.73,100.58 L406.79,101.31 L406.84,102.03 L406.89,102.76 L406.95,103.48 L407.00,104.21 L407.05,104.93 L407.10,105.66 L407.15,106.39 L407.20,107.11 L407.25,107.84 L407.29,108.56 L407.34,109.29 L407.39,110.02 L407.44,110.74 L407.48,111.47 L407.53,112.20 L407.57,112.92 L407.62,113.65 L407.66,114.38 L407.71,115.10 L407.75,115.83 L407.79,116.56 L407.83,117.29 L407.88,118.01 L407.92,118.74 L407.96,119.47 L408.00,120.20 L408.04,120.92 L408.08,121.65 L408.12,122.38 L408.16,123.11 L408.19,123.84 L408.23,124.56 L408.27,125.29 L408.30,126.02 L408.34,126.75 L408.38,127.48 L408.41,128.21 L408.45,128.93 L408.48,129.66 L408.51,130.39 L408.55,131.12 L408.58,131.85 L408.61,132.58 L408.65,133.31 L408.68,134.04 L408.71,134.77 L408.74,135.50 L408.77,136.23 L408.80,136.95 L408.83,137.68 L408.86,138.41 L408.89,139.14 L408.92,139.87 L408.95,140.60 L408.97,141.33 L409.00,142.06 L409.03,142.79 L409.05,143.52 L409.08,144.25 L409.11,144.98 L409.13,145.71 L409.16,146.44 L409.18,147.17 L409.21,147.90 L409.23,148.63 L409.25,149.36 L409.28,150.10 L409.30,150.83 L409.32,151.56 L409.35,152.29 L409.37,153.02 L409.39,153.75 L409.41,154.48 L409.43,155.21 L409.45,155.94 L409.47,156.67 L409.49,157.40 L409.51,158.13 L409.53,158.87 L409.55,159.60 L409.57,160.33 L409.59,161.06 L409.61,161.79 L409.62,162.52 L409.64,163.25 L409.66,163.98 L409.68,164.72 L409.69,165.45 L409.71,166.18 L409.72,166.91 L409.74,167.64 L409.76,168.37 L409.77,169.10 L409.79,169.84 L409.80,170.57 L409.82,171.30 L409.83,172.03 L409.84,172.76 L409.86,173.49 L409.87,174.23 L409.88,174.96 L409.90,175.69 L409.91,176.42 L409.92,177.15 L409.93,177.89 L409.95,178.62 L409.96,179.35 L409.97,180.08 L409.98,180.81 L409.99,181.54 L410.00,182.28 L410.01,183.01 L410.02,183.74 L410.03,184.47 L410.04,185.20 L410.05,185.94 L410.06,186.67 L410.07,187.40 L410.08,188.13 L410.09,188.86 L410.10,189.60 L410.11,190.33 L410.12,191.06 L410.13,191.79 L410.13,192.53 L410.14,193.26 L410.15,193.99 L410.16,194.72 L410.16,195.45 L410.17,196.19 L410.18,196.92 L410.19,197.65 L410.19,198.38 L410.20,199.11 L410.21,199.85 L410.21,200.58 L410.22,201.31 L410.22,202.04 L410.23,202.77 L410.24,203.51 L410.24,204.24 L410.25,204.97 L410.25,205.70 L410.26,206.43 L410.26,207.16 L410.27,207.90 L410.27,208.63 L410.28,209.36 L410.28,210.09 L410.29,210.82 L410.29,211.56 L410.30,212.29 L410.30,213.02 L410.30,213.75 L410.31,214.48 L410.31,215.21 L410.32,215.95 L410.32,216.68 L410.32,217.41 L410.33,218.14 L410.33,218.87 L410.34,219.60 L410.34,220.33 L410.34,221.07 L410.35,221.80 L410.35,222.53 L410.35,223.26 L410.36,223.99 L410.36,224.72 L410.36,225.45 L410.37,226.18 L410.37,226.92 L410.37,227.65 L410.38,228.38 L410.38,229.11 L410.38,229.84 L410.38,230.57 L410.39,231.30 L410.39,232.03 L410.39,232.76 L410.40,233.49 L410.40,234.22 L410.40,234.96 L410.41,235.69 L410.41,236.42 L410.41,237.15 L410.41,237.88 L410.42,238.61 L410.42,239.34 L410.42,240.07 L410.43,240.80 L410.43,241.53 L410.43,242.26 L410.44,242.99 L410.44,243.72 L410.44,244.45 L410.45,245.18 L410.45,245.91 L410.45,246.64 L410.46,247.37 L410.46,248.10 L410.46,248.83 L410.47,249.56 L410.47,250.28 L410.47,251.01 L410.48,251.74 L410.48,252.47 L410.49,253.20 L410.49,253.93 L410.49,254.66 L410.50,255.39 L410.50,256.12 L410.51,256.85 L410.51,257.57 L410.52,258.30 L410.52,259.03 L410.52,259.76 L410.53,260.49 L410.53,261.22 L410.54,261.94 L410.54,262.67 L410.55,263.40 L410.56,261.79 L410.58,260.18 L410.59,258.57 L410.60,256.96 L410.61,255.35 L410.62,253.74 L410.63,252.13 L410.64,250.52 L410.64,248.91 L410.65,247.30 L410.66,245.69 L410.66,244.08 L410.67,242.47 L410.68,240.86 L410.68,239.25 L410.69,237.63 L410.69,236.02 L410.70,234.41 L410.70,232.80 L410.71,231.19 L410.71,229.58 L410.72,227.97 L410.72,226.36 L410.73,224.75 L410.73,223.13 L410.73,221.52 L410.74,219.91 L410.74,218.30 L410.75,216.69 L410.76,215.08 L410.76,213.47 L410.77,211.85 L410.77,210.24 L410.78,208.63 L410.79,207.02 L410.80,205.41 L410.80,203.80 L410.81,202.18 L410.82,200.57 L410.83,198.96 L410.84,197.35 L410.85,195.74 L410.87,194.13 L410.88,192.52 L410.89,190.90 L410.91,189.29 L410.92,187.68 L410.94,186.07 L410.95,184.46 L410.97,182.85 L410.99,181.24 L411.01,179.62 L411.03,178.01 L411.06,176.40 L411.08,174.79 L411.10,173.18 L411.13,171.57 L411.16,169.96 L411.18,168.35 L411.21,166.74 L411.25,165.13 L411.28,163.52 L411.31,161.90 L411.35,160.29 L411.38,158.68 L411.42,157.07 L411.46,155.46 L411.50,153.85 L411.55,152.24 L411.59,150.63 L411.64,149.02 L411.69,147.41 L411.74,145.80 L411.79,144.19 L411.85,142.58 L411.90,140.98 L411.96,139.37 L412.02,137.76 L412.08,136.15 L412.14,134.54 L412.21,132.93 L412.28,131.32 L412.35,129.71 L412.42,128.11 L412.50,126.50 L412.57,124.89 L412.65,123.28 L412.74,121.67 L412.82,120.07 L412.91,118.46 L412.99,116.85 L413.09,115.24 L413.18,113.64 L413.28,112.03 L413.38,110.42 L413.48,108.82 L413.58,107.21 L413.69,105.61 L413.80,104.00"/>
</g>
<path class="ax" d="M48.50,263.5 v-7 M48.50,7.5 v7 M96.24,263.5 v-3.7 M96.24,7.5 v3.7 M124.17,263.5 v-3.7 M124.17,7.5 v3.7 M143.99,263.5 v-3.7 M143.99,7.5 v3.7 M159.36,263.5 v-3.7 M159.36,7.5 v3.7 M171.91,263.5 v-3.7 M171.91,7.5 v3.7 M182.53,263.5 v-3.7 M182.53,7.5 v3.7 M191.73,263.5 v-3.7 M191.73,7.5 v3.7 M199.84,263.5 v-3.7 M199.84,7.5 v3.7 M207.10,263.5 v-7 M207.10,7.5 v7 M254.84,263.5 v-3.7 M254.84,7.5 v3.7 M282.77,263.5 v-3.7 M282.77,7.5 v3.7 M302.59,263.5 v-3.7 M302.59,7.5 v3.7 M317.96,263.5 v-3.7 M317.96,7.5 v3.7 M330.51,263.5 v-3.7 M330.51,7.5 v3.7 M341.13,263.5 v-3.7 M341.13,7.5 v3.7 M350.33,263.5 v-3.7 M350.33,7.5 v3.7 M358.44,263.5 v-3.7 M358.44,7.5 v3.7 M365.70,263.5 v-7 M365.70,7.5 v7 M413.44,263.5 v-3.7 M413.44,7.5 v3.7 M48.5,263.50 h7 M413.9,263.50 h-7 M48.5,248.09 h3.7 M413.9,248.09 h-3.7 M48.5,239.07 h3.7 M413.9,239.07 h-3.7 M48.5,232.67 h3.7 M413.9,232.67 h-3.7 M48.5,227.71 h3.7 M413.9,227.71 h-3.7 M48.5,223.66 h3.7 M413.9,223.66 h-3.7 M48.5,220.23 h3.7 M413.9,220.23 h-3.7 M48.5,217.26 h3.7 M413.9,217.26 h-3.7 M48.5,214.64 h3.7 M413.9,214.64 h-3.7 M48.5,212.30 h7 M413.9,212.30 h-7 M48.5,196.89 h3.7 M413.9,196.89 h-3.7 M48.5,187.87 h3.7 M413.9,187.87 h-3.7 M48.5,181.47 h3.7 M413.9,181.47 h-3.7 M48.5,176.51 h3.7 M413.9,176.51 h-3.7 M48.5,172.46 h3.7 M413.9,172.46 h-3.7 M48.5,169.03 h3.7 M413.9,169.03 h-3.7 M48.5,166.06 h3.7 M413.9,166.06 h-3.7 M48.5,163.44 h3.7 M413.9,163.44 h-3.7 M48.5,161.10 h7 M413.9,161.10 h-7 M48.5,145.69 h3.7 M413.9,145.69 h-3.7 M48.5,136.67 h3.7 M413.9,136.67 h-3.7 M48.5,130.27 h3.7 M413.9,130.27 h-3.7 M48.5,125.31 h3.7 M413.9,125.31 h-3.7 M48.5,121.26 h3.7 M413.9,121.26 h-3.7 M48.5,117.83 h3.7 M413.9,117.83 h-3.7 M48.5,114.86 h3.7 M413.9,114.86 h-3.7 M48.5,112.24 h3.7 M413.9,112.24 h-3.7 M48.5,109.90 h7 M413.9,109.90 h-7 M48.5,94.49 h3.7 M413.9,94.49 h-3.7 M48.5,85.47 h3.7 M413.9,85.47 h-3.7 M48.5,79.07 h3.7 M413.9,79.07 h-3.7 M48.5,74.11 h3.7 M413.9,74.11 h-3.7 M48.5,70.06 h3.7 M413.9,70.06 h-3.7 M48.5,66.63 h3.7 M413.9,66.63 h-3.7 M48.5,63.66 h3.7 M413.9,63.66 h-3.7 M48.5,61.04 h3.7 M413.9,61.04 h-3.7 M48.5,58.70 h7 M413.9,58.70 h-7 M48.5,43.29 h3.7 M413.9,43.29 h-3.7 M48.5,34.27 h3.7 M413.9,34.27 h-3.7 M48.5,27.87 h3.7 M413.9,27.87 h-3.7 M48.5,22.91 h3.7 M413.9,22.91 h-3.7 M48.5,18.86 h3.7 M413.9,18.86 h-3.7 M48.5,15.43 h3.7 M413.9,15.43 h-3.7 M48.5,12.46 h3.7 M413.9,12.46 h-3.7 M48.5,9.84 h3.7 M413.9,9.84 h-3.7 M48.5,7.5 h7 M413.9,7.5 h-7"/>
<rect class="ax" x="48.5" y="7.5" width="365.40" height="256.00" fill="none" stroke="#000"/>

<g class="ar r1"><path d="M252.5,37.5 L263.5,45"/><path class="hd" d="M263.8,45.3 l-5.0,-1.5 l1.9,-2.8 z"/></g>
<g class="ar r1"><path d="M224,40 L223.7,55.8"/><path class="hd" d="M223.7,56.0 l-1.75,-5.4 l3.6,0.07 z"/></g>
<g class="ar k1"><path d="M118.8,95.4 L133.4,86.4"/><path class="hd" d="M133.7,86.2 l-3.8,4.3 l-2.1,-3.4 z"/></g>
<g class="ar k1"><path d="M111.7,105 L118.8,121.7"/><path class="hd" d="M118.9,122.0 l-4.0,-4.1 l3.7,-1.6 z"/></g>

<text x="45.3" y="14.8" text-anchor="end" class="t13">10<tspan class="sup" dy="-7.5">1</tspan></text>
<text x="45.3" y="66.0" text-anchor="end" class="t13">10<tspan class="sup" dy="-7.5">0</tspan></text>
<text x="45.3" y="117.2" text-anchor="end" class="t13">10<tspan class="sup" dy="-7.5">-1</tspan></text>
<text x="45.3" y="168.4" text-anchor="end" class="t13">10<tspan class="sup" dy="-7.5">-2</tspan></text>
<text x="45.3" y="219.6" text-anchor="end" class="t13">10<tspan class="sup" dy="-7.5">-3</tspan></text>
<text x="48.9" y="276.1" text-anchor="middle" class="t13">0,01</text>
<text x="207.5" y="276.1" text-anchor="middle" class="t13">0,1</text>
<text x="366.1" y="276.1" text-anchor="middle" class="t13">1</text>
<text x="231.4" y="291" text-anchor="middle" class="t16">d(D)</text>
<text transform="translate(16.9,135.3) rotate(-90)" text-anchor="middle" class="t16" style="letter-spacing:-0.2px">Scattering rate (cm s<tspan class="sup16" dy="-8.3">-1</tspan><tspan dy="8.3">)</tspan></text>
<text x="210.5" y="37.2" class="t13" style="fill:#f00">500 nK</text>
<text x="87.7" y="104" class="t13">5 nK</text>
</svg>
</body></html>
